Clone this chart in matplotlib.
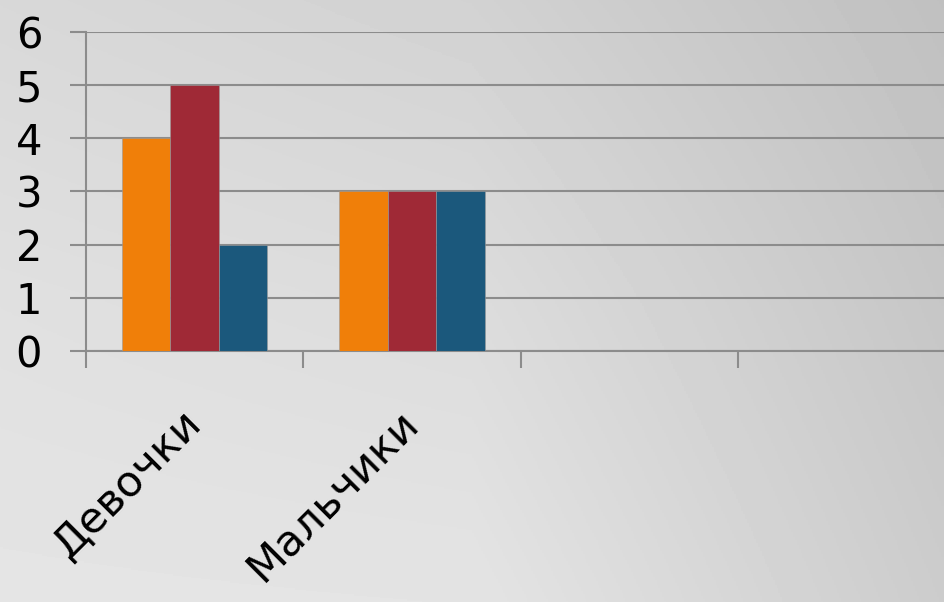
# -*- coding: utf-8 -*-
import numpy as np
import matplotlib
matplotlib.use('Agg')
import matplotlib.pyplot as plt

# data
categories = ['Девочки', 'Мальчики', '', '']
series_1 = [4, 3, np.nan, np.nan]
series_2 = [5, 3, np.nan, np.nan]
series_3 = [2, 3, np.nan, np.nan]
y_ticks = [0, 1, 2, 3, 4, 5, 6]

colors = ['#F07F09', '#9F2936', '#1B587C']
grid_color = '#8c8c8c'

plt.rcParams['font.family'] = ['DejaVu Sans']

fig = plt.figure(figsize=(9.45, 6.02), dpi=100)

# gray gradient background
bg = fig.add_axes([0, 0, 1, 1], zorder=-10)
levels = np.array([[216, 210, 192],
                   [224, 220, 198],
                   [229, 228, 204]]) / 255.0
bg.imshow(levels, cmap='gray', vmin=0, vmax=1, interpolation='bilinear',
          extent=[-0.25, 1.25, -0.25, 1.25], aspect='auto')
bg.set_xlim(0, 1)
bg.set_ylim(0, 1)
bg.axis('off')

ax = fig.add_axes([0.091, 0.417, 0.9206, 0.530])
ax.set_facecolor('none')

x = np.arange(len(categories))
w = 0.223
for i, (vals, c) in enumerate(zip([series_1, series_2, series_3], colors)):
    ax.bar(x + (i - 1) * w, vals, width=w, color=c, edgecolor='#9a9a9a',
           linewidth=0.4, zorder=3)

ax.set_xlim(-0.5, len(categories) - 0.5)
ax.set_ylim(0, 6)
ax.set_yticks(y_ticks)
ax.set_yticklabels([str(v) for v in y_ticks], fontsize=30)
ax.yaxis.grid(True, color=grid_color, linewidth=1.5, zorder=0)
ax.set_axisbelow(True)

# category boundaries as major ticks, names as minor ticks
ax.set_xticks(np.arange(len(categories) + 1) - 0.5)
ax.set_xticklabels([])
ax.set_xticks(x, minor=True)
ax.set_xticklabels(categories, minor=True, fontsize=31, rotation=45,
                   ha='right', va='center', rotation_mode='anchor')
ax.tick_params(axis='x', which='major', length=12, width=1.5,
               color=grid_color)
ax.tick_params(axis='x', which='minor', length=0, pad=47)
ax.tick_params(axis='y', length=11.5, width=1.5, color=grid_color, pad=20)

for s in ['top', 'right']:
    ax.spines[s].set_visible(False)
ax.spines['left'].set_color(grid_color)
ax.spines['left'].set_linewidth(1.5)
ax.spines['bottom'].set_color(grid_color)
ax.spines['bottom'].set_linewidth(1.5)

fig.savefig('out.png', dpi=100)
